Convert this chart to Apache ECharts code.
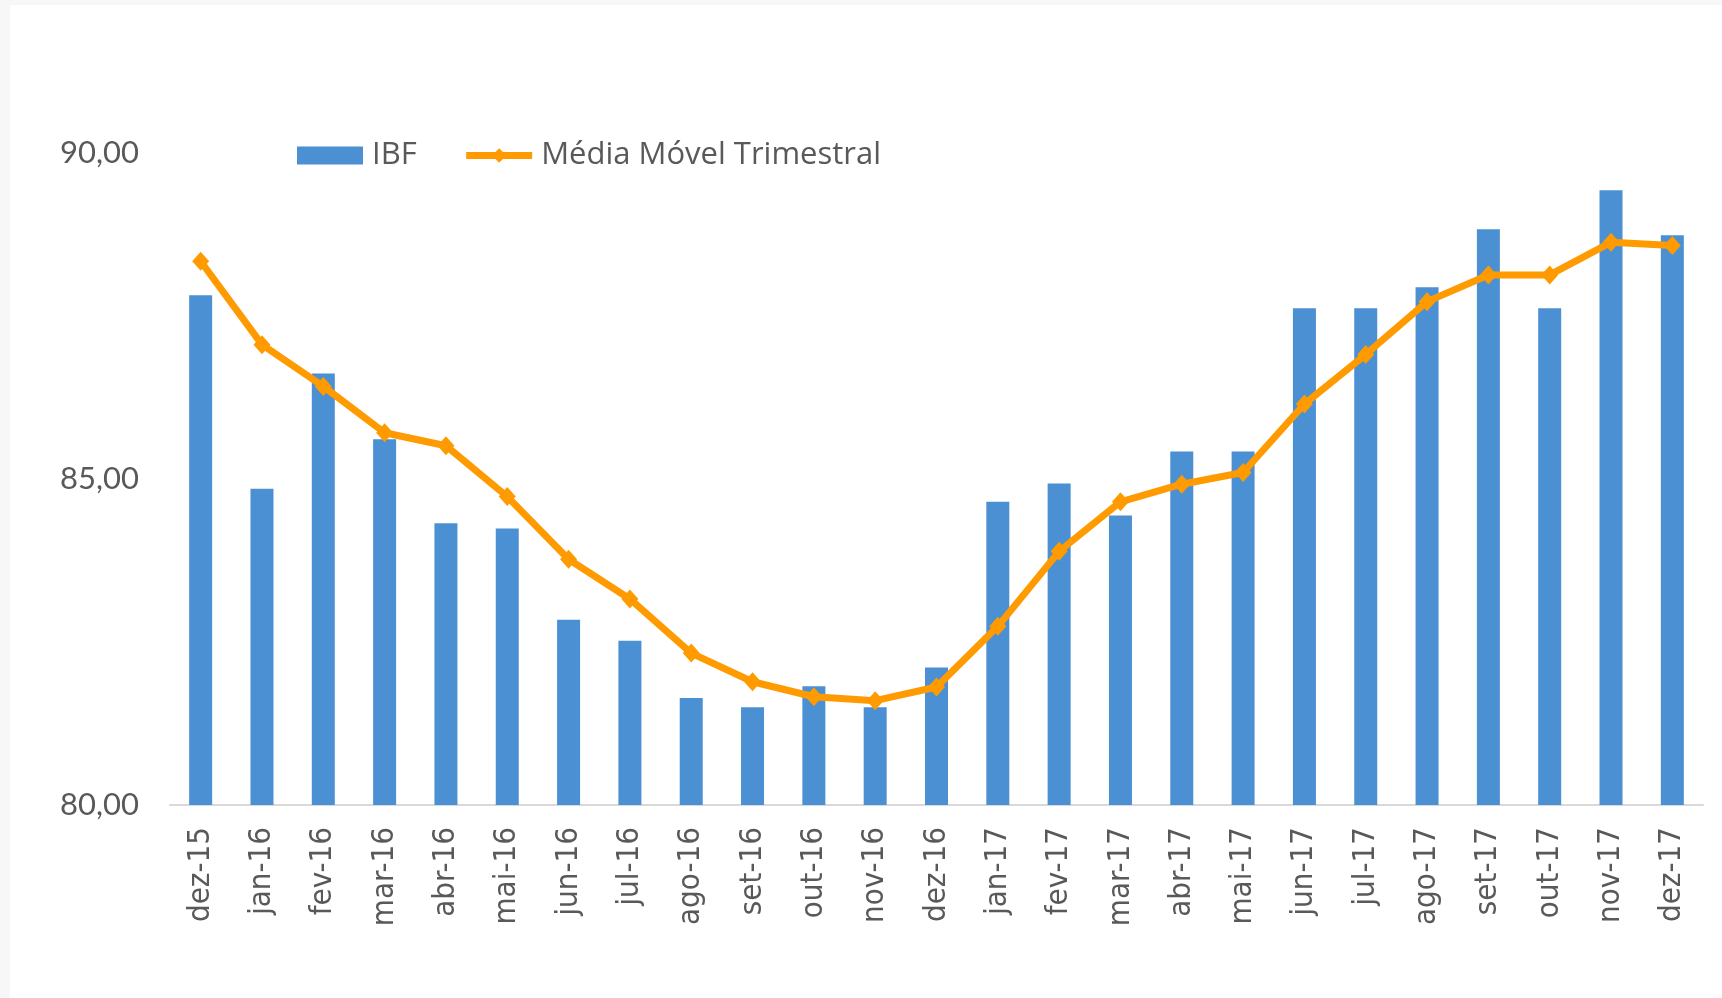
<!DOCTYPE html>
<html>
<head>
<meta charset="utf-8">
<script src="https://cdn.jsdelivr.net/npm/echarts@6/dist/echarts.min.js"></script>
<style>
  html, body { margin: 0; padding: 0; background: #f7f7f7; width: 1722px; height: 998px; overflow: hidden; }
  #wrap { position: absolute; left: 10px; top: 5px; width: 1712px; height: 993px; background: #ffffff; }
  #chart { position: absolute; left: -10px; top: -5px; width: 1722px; height: 998px; }
</style>
</head>
<body>
<div id="wrap"><div id="chart"></div></div>
<script>
const categories = ['dez-15','jan-16','fev-16','mar-16','abr-16','mai-16','jun-16','jul-16','ago-16','set-16','out-16','nov-16','dez-16',
  'jan-17','fev-17','mar-17','abr-17','mai-17','jun-17','jul-17','ago-17','set-17','out-17','nov-17','dez-17'];
const ibf = [87.82, 84.85, 86.62, 85.61, 84.32, 84.24, 82.84, 82.52, 81.64, 81.50, 81.82, 81.50, 82.11,
  84.65, 84.93, 84.44, 85.42, 85.42, 87.62, 87.62, 87.94, 88.83, 87.62, 89.43, 88.74];
const mediaMovel = [88.34, 87.06, 86.42, 85.71, 85.51, 84.73, 83.77, 83.16, 82.33, 81.89, 81.66, 81.60, 81.81,
  82.74, 83.89, 84.65, 84.92, 85.10, 86.15, 86.91, 87.72, 88.13, 88.13, 88.63, 88.58];
const yTicks = [80, 85, 90];

const chart = echarts.init(document.getElementById('chart'), null, { renderer: 'canvas' });
chart.setOption({
  backgroundColor: 'transparent',
  animation: false,
  grid: { left: 170, right: 19, top: 153, bottom: 193, containLabel: false },
  legend: {
    left: 292, top: 135,
    itemWidth: 66, itemHeight: 18, itemGap: 46,
    textStyle: { fontFamily: 'Open Sans', fontSize: 31, color: '#595959', padding: [0, 0, 0, 4] },
    data: [
      { name: 'IBF', icon: 'rect' },
      { name: 'Média Móvel Trimestral', lineStyle: { width: 7, color: '#FF9A00' }, itemStyle: { color: '#FF9A00' } }
    ]
  },
  xAxis: {
    type: 'category',
    data: categories,
    axisLine: { show: true, lineStyle: { color: '#d9d9d9', width: 2 } },
    axisTick: { show: false },
    axisLabel: { rotate: 90, margin: 22, fontFamily: 'DejaVu Sans Condensed, DejaVu Sans', fontSize: 31, color: '#595959', interval: 0 }
  },
  yAxis: {
    type: 'value',
    min: 80, max: 90, interval: 5,
    axisLine: { show: false },
    axisTick: { show: false },
    splitLine: { show: false },
    axisLabel: {
      margin: 31, fontFamily: 'Lato', fontSize: 31, color: '#595959',
      formatter: function (v) { return yTicks.indexOf(v) >= 0 ? v.toFixed(2).replace('.', ',') : ''; }
    }
  },
  series: [
    {
      name: 'IBF', type: 'bar', data: ibf, barWidth: 23,
      itemStyle: { color: '#4A90D2' }
    },
    {
      name: 'Média Móvel Trimestral', type: 'line', data: mediaMovel,
      symbol: 'diamond', symbolSize: [17, 19],
      lineStyle: { color: '#FF9A00', width: 7 },
      itemStyle: { color: '#FF9A00' }
    }
  ]
});
</script>
</body>
</html>
